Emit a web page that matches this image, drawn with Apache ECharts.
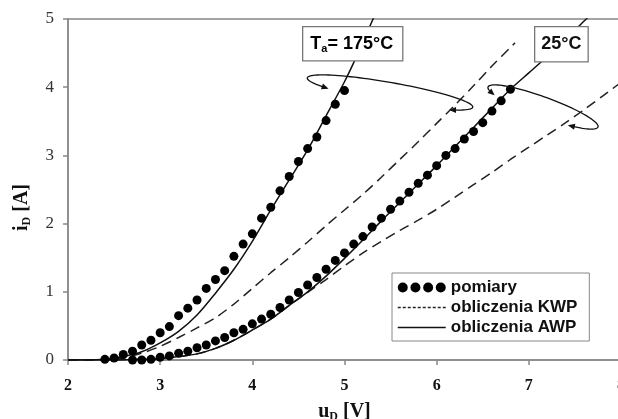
<!DOCTYPE html>
<html>
<head>
<meta charset="utf-8">
<script src="https://cdn.jsdelivr.net/npm/echarts@6/dist/echarts.min.js"></script>
<style>
  html, body { margin: 0; padding: 0; background: #fff; }
  #chart { width: 618px; height: 419px; }
</style>
</head>
<body>
<div id="chart"></div>
<script>
// pomiary (measurements), 175°C and 25°C
const uMeas175 = [2.4, 2.5, 2.6, 2.7, 2.8, 2.9, 3.0, 3.1, 3.2, 3.3, 3.4, 3.5, 3.6, 3.7, 3.8, 3.9, 4.0, 4.1, 4.2, 4.3, 4.4, 4.5, 4.6, 4.7, 4.8, 4.9, 5.0];
const iMeas175 = [0.01, 0.03, 0.08, 0.13, 0.22, 0.29, 0.40, 0.49, 0.65, 0.76, 0.88, 1.05, 1.18, 1.31, 1.52, 1.70, 1.85, 2.08, 2.24, 2.48, 2.69, 2.91, 3.10, 3.27, 3.51, 3.75, 3.95];

const uMeas25 = [2.7, 2.8, 2.9, 3.0, 3.1, 3.2, 3.3, 3.4, 3.5, 3.6, 3.7, 3.8, 3.9, 4.0, 4.1, 4.2, 4.3, 4.4, 4.5, 4.6, 4.7, 4.8, 4.9, 5.0, 5.1, 5.2, 5.3, 5.4, 5.5, 5.6, 5.7, 5.8, 5.9, 6.0, 6.1, 6.2, 6.3, 6.4, 6.5, 6.6, 6.7, 6.8];
const iMeas25 = [0.0, 0.0, 0.01, 0.04, 0.06, 0.10, 0.13, 0.18, 0.22, 0.28, 0.33, 0.40, 0.45, 0.53, 0.60, 0.67, 0.77, 0.88, 0.99, 1.10, 1.21, 1.33, 1.46, 1.57, 1.70, 1.81, 1.95, 2.08, 2.21, 2.33, 2.46, 2.59, 2.71, 2.85, 3.00, 3.10, 3.24, 3.35, 3.48, 3.65, 3.80, 3.97];

// obliczenia AWP (solid)
const uAwp175 = [2.0, 2.2, 2.4, 2.6, 2.8, 3.0, 3.2, 3.4, 3.6, 3.8, 4.0, 4.2, 4.4, 4.6, 4.8, 5.0, 5.1, 5.2, 5.3, 5.35];
const iAwp175 = [0, 0, 0.01, 0.05, 0.12, 0.25, 0.42, 0.66, 0.98, 1.33, 1.74, 2.2, 2.64, 3.08, 3.58, 4.08, 4.36, 4.66, 4.97, 5.12];
const uAwp25 = [2.0, 2.4, 2.8, 3.0, 3.2, 3.4, 3.6, 3.8, 4.0, 4.2, 4.4, 4.6, 4.8, 5.0, 5.2, 5.4, 5.6, 5.8, 6.0, 6.2, 6.4, 6.6, 6.8, 7.0, 7.2, 7.4, 7.6, 7.7];
const iAwp25 = [0, 0, 0.01, 0.02, 0.05, 0.09, 0.17, 0.29, 0.44, 0.6, 0.8, 1.0, 1.23, 1.49, 1.76, 2.04, 2.31, 2.58, 2.85, 3.13, 3.41, 3.69, 3.97, 4.21, 4.45, 4.7, 4.97, 5.1];

// obliczenia KWP (dashed)
const uKwp175 = [2.0, 2.2, 2.4, 2.6, 2.8, 3.0, 3.2, 3.4, 3.6, 3.8, 4.0, 4.2, 4.4, 4.6, 4.8, 5.0, 5.2, 5.4, 5.6, 5.8, 6.0, 6.2, 6.4, 6.6, 6.85];
const iKwp175 = [0, 0, 0.005, 0.03, 0.1, 0.2, 0.33, 0.47, 0.62, 0.82, 1.05, 1.28, 1.5, 1.73, 1.97, 2.2, 2.43, 2.68, 2.94, 3.2, 3.47, 3.74, 4.02, 4.31, 4.65];
const uKwp25 = [2.0, 2.4, 2.8, 3.0, 3.2, 3.4, 3.6, 3.8, 4.0, 4.2, 4.4, 4.6, 4.8, 5.0, 5.2, 5.4, 5.6, 5.8, 6.0, 6.2, 6.4, 6.6, 6.8, 7.0, 7.2, 7.4, 7.6, 7.8, 8.0];
const iKwp25 = [0, 0, 0.01, 0.02, 0.05, 0.09, 0.17, 0.29, 0.44, 0.6, 0.8, 0.99, 1.18, 1.38, 1.57, 1.74, 1.9, 2.05, 2.21, 2.39, 2.57, 2.75, 2.94, 3.12, 3.3, 3.48, 3.67, 3.87, 4.07];

const xTicks = [2, 3, 4, 5, 6, 7, 8];
const yTicks = [0, 1, 2, 3, 4, 5];

const pairs = (xs, ys) => xs.map((x, k) => [x, ys[k]]);

// annotation ovals with arrow ends (pixel space)
function ovalArrow(cx, cy, a, b, rotDeg, t0, t1) {
  const th = rotDeg * Math.PI / 180;
  const ct = Math.cos(th), st = Math.sin(th);
  const pt = (t) => [
    cx + a * Math.cos(t) * ct - b * Math.sin(t) * st,
    cy + a * Math.cos(t) * st + b * Math.sin(t) * ct
  ];
  const pts = [];
  for (let k = 0; k <= 80; k++) pts.push(pt(t0 + (t1 - t0) * k / 80));
  const head = (p, q) => {
    let dx = p[0] - q[0], dy = p[1] - q[1];
    const len = Math.hypot(dx, dy);
    dx /= len; dy /= len;
    const tip = [p[0] + dx * 2, p[1] + dy * 2];
    const base = [p[0] - dx * 5, p[1] - dy * 5];
    return [tip, [base[0] - dy * 3, base[1] + dx * 3], [base[0] + dy * 3, base[1] - dx * 3]];
  };
  return [
    { type: 'polyline', z: 50, shape: { points: pts }, style: { stroke: '#111', lineWidth: 1.3, fill: null } },
    { type: 'polygon', z: 50, shape: { points: head(pts[0], pts[3]) }, style: { fill: '#111' } },
    { type: 'polygon', z: 50, shape: { points: head(pts[80], pts[77]) }, style: { fill: '#111' } }
  ];
}

const chart = echarts.init(document.getElementById('chart'));

const serifFont = '"Liberation Serif", "DejaVu Serif", serif';
const sansFont = '"Liberation Sans", Arial, sans-serif';

const solidStyle = { color: '#111', width: 1.5, type: 'solid' };
const dashStyle = { color: '#222', width: 1.5, type: [10, 6] };

const option = {
  animation: false,
  backgroundColor: '#fff',
  grid: {
    left: 68,
    right: -3,
    top: 19,
    bottom: 59,
    outerBoundsMode: 'none',
    containLabel: false,
    show: true,
    borderColor: '#888',
    borderWidth: 1.5
  },
  legend: {
    orient: 'vertical',
    left: 392,
    top: 273,
    padding: [6, 12, 5, 5],
    itemGap: 3,
    itemWidth: 48,
    itemHeight: 11,
    borderColor: '#888',
    borderWidth: 1,
    backgroundColor: '#fff',
    textStyle: { fontFamily: sansFont, fontWeight: 'bold', fontSize: 17, color: '#111' },
    data: [
      {
        name: 'pomiary',
        icon: 'path://M0,5a5,5 0 1,0 10,0a5,5 0 1,0 -10,0M12.7,5a5,5 0 1,0 10,0a5,5 0 1,0 -10,0M25.4,5a5,5 0 1,0 10,0a5,5 0 1,0 -10,0M38,5a5,5 0 1,0 10,0a5,5 0 1,0 -10,0',
        itemStyle: { color: '#000', opacity: 1 }
      },
      { name: 'obliczenia KWP', itemStyle: { opacity: 0 }, lineStyle: { type: [3, 2], width: 1.5, color: '#222', opacity: 1 } },
      { name: 'obliczenia AWP', itemStyle: { opacity: 0 }, lineStyle: { color: '#111', width: 1.5, opacity: 1 } }
    ]
  },
  xAxis: {
    type: 'value',
    min: 2,
    max: 8,
    interval: 1,
    name: '{t|u}{s|D}{t| [V]}',
    nameLocation: 'middle',
    nameGap: 41,
    nameTextStyle: {
      rich: {
        t: { fontFamily: serifFont, fontWeight: 'bold', fontSize: 20, color: '#111' },
        s: { fontFamily: serifFont, fontWeight: 'bold', fontSize: 12, color: '#111', padding: [10, 0, 0, 0] }
      }
    },
    axisLine: { show: true, lineStyle: { color: '#888', width: 1.5 } },
    axisTick: { show: true, length: 5, lineStyle: { color: '#888', width: 1.5 } },
    axisLabel: {
      margin: 18,
      fontFamily: serifFont,
      fontWeight: 'bold',
      fontSize: 16,
      color: '#111',
      formatter: (v) => (xTicks.includes(v) ? String(v) : '')
    },
    splitLine: { show: false }
  },
  yAxis: {
    type: 'value',
    min: 0,
    max: 5,
    interval: 1,
    name: '{t|i}{s|D}{t| [A]}',
    nameLocation: 'middle',
    nameRotate: 90,
    nameGap: 35,
    nameTextStyle: {
      padding: [0, 36, 0, 0],
      rich: {
        t: { fontFamily: serifFont, fontWeight: 'bold', fontSize: 20, color: '#111' },
        s: { fontFamily: serifFont, fontWeight: 'bold', fontSize: 12, color: '#111', padding: [10, 0, 0, 0] }
      }
    },
    axisLine: { show: true, lineStyle: { color: '#888', width: 1.5 } },
    axisTick: { show: true, length: 5, lineStyle: { color: '#888', width: 1.5 } },
    axisLabel: {
      margin: 14,
      fontFamily: serifFont,
      fontSize: 17,
      color: '#333',
      formatter: (v) => (yTicks.includes(v) ? String(v) : '')
    },
    splitLine: { show: false }
  },
  series: [
    {
      name: 'obliczenia KWP',
      type: 'line',
      smooth: 0.3,
      symbol: 'none',
      lineStyle: dashStyle,
      itemStyle: { color: '#222' },
      data: pairs(uKwp175, iKwp175)
    },
    {
      name: 'obliczenia KWP',
      type: 'line',
      smooth: 0.3,
      symbol: 'none',
      lineStyle: dashStyle,
      itemStyle: { color: '#222' },
      data: pairs(uKwp25, iKwp25)
    },
    {
      name: 'obliczenia AWP',
      type: 'line',
      smooth: 0.3,
      symbol: 'none',
      lineStyle: solidStyle,
      itemStyle: { color: '#111' },
      data: pairs(uAwp175, iAwp175)
    },
    {
      name: 'obliczenia AWP',
      type: 'line',
      smooth: 0.3,
      symbol: 'none',
      lineStyle: solidStyle,
      itemStyle: { color: '#111' },
      data: pairs(uAwp25, iAwp25)
    },
    {
      name: 'pomiary',
      type: 'scatter',
      symbol: 'circle',
      symbolSize: 9,
      itemStyle: { color: '#000', opacity: 1 },
      data: pairs(uMeas175, iMeas175),
      z: 5
    },
    {
      name: 'pomiary',
      type: 'scatter',
      symbol: 'circle',
      symbolSize: 9,
      itemStyle: { color: '#000', opacity: 1 },
      data: pairs(uMeas25, iMeas25),
      z: 5
    }
  ],
  graphic: [
    {
      type: 'text',
      z: 60,
      left: 302,
      top: 26,
      style: {
        text: '{b|T}{s|a}{b|= 175°C}',
        rich: {
          b: { fontFamily: sansFont, fontWeight: 'bold', fontSize: 18, color: '#111' },
          s: { fontFamily: sansFont, fontWeight: 'bold', fontSize: 11, color: '#111', padding: [10, 0, 0, 0] }
        },
        backgroundColor: '#fff',
        borderColor: '#777',
        borderWidth: 1.3,
        padding: [6, 9, 6, 7]
      }
    },
    {
      type: 'text',
      z: 60,
      left: 534,
      top: 26,
      style: {
        text: '25°C',
        fontFamily: sansFont,
        fontWeight: 'bold',
        fontSize: 18,
        fill: '#111',
        backgroundColor: '#fff',
        borderColor: '#777',
        borderWidth: 1.3,
        padding: [8, 6, 8, 6]
      }
    },
    ...ovalArrow(390, 92.5, 84, 10, 10, Math.PI - 0.72, 2 * Math.PI + 0.72),
    ...ovalArrow(543, 107, 58.5, 10, 20, Math.PI - 0.5, 2 * Math.PI + 1.0)
  ]
};

chart.setOption(option);
</script>
</body>
</html>
